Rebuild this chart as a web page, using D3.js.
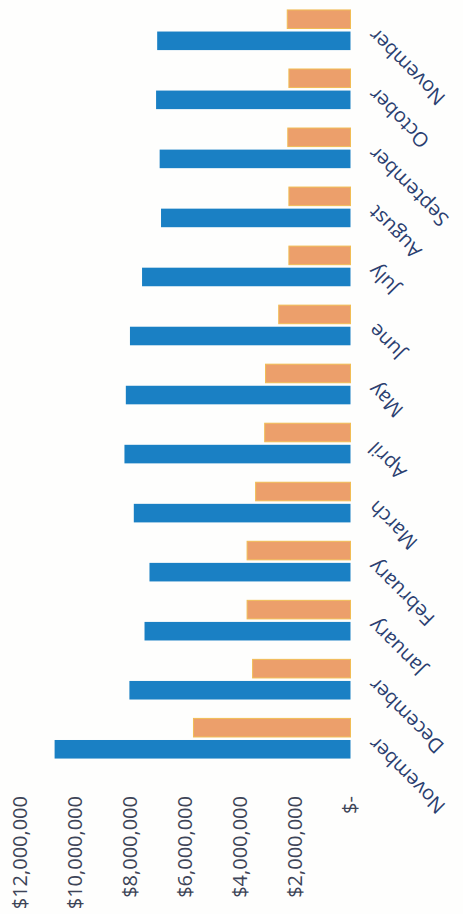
<!DOCTYPE html>
<html>
<head>
<meta charset="utf-8">
<script src="https://cdn.jsdelivr.net/npm/d3@7"></script>
<style>
  html, body { margin: 0; padding: 0; background: #fefefd; }
  svg { display: block; }
</style>
</head>
<body>
<script>
// Monthly figures, November through the following November
const months = ["November", "December", "January", "February", "March", "April",
                "May", "June", "July", "August", "September", "October", "November"];
const seriesA = [10760000, 8040000, 7490000, 7310000, 7880000, 8220000,
                 8170000, 8020000, 7580000, 6890000, 6940000, 7070000, 7030000];
const seriesB = [5710000, 3560000, 3760000, 3760000, 3450000, 3120000,
                 3090000, 2610000, 2240000, 2240000, 2280000, 2240000, 2300000];
const valueTicks = [0, 2000000, 4000000, 6000000, 8000000, 10000000, 12000000];

const W = 463, H = 914;
const colors = ["#1a80c4", "#ec9f6b"];

const svg = d3.select("body").append("svg")
  .attr("width", W).attr("height", H);

// The column chart is laid out in a 914 x 463 frame and turned a quarter turn
// counter-clockwise, so months run bottom-to-top and values grow leftwards.
const g = svg.append("g").attr("transform", `translate(0,${H}) rotate(-90)`);

const x = d3.scaleBand()
  .domain(d3.range(months.length))
  .range([146, 913.5])
  .paddingInner(0.32)
  .paddingOuter(0.16);

const xs = d3.scaleBand()
  .domain([0, 1])
  .range([0, x.bandwidth()])
  .paddingInner(0.14);

const y = d3.scaleLinear().domain([0, 12000000]).range([350.5, 20.5]);

// value axis
const fmt = d => d === 0 ? "$-" : "$" + d3.format(",")(d);
const yAxis = g.append("g")
  .attr("transform", "translate(121,0)")
  .call(d3.axisLeft(y).tickValues(valueTicks).tickFormat(fmt)
    .tickSize(0).tickPadding(3));
yAxis.select(".domain").remove();
yAxis.selectAll("text")
  .attr("font-family", "'Open Sans', sans-serif")
  .attr("font-size", 20)
  .attr("fill", "#3d4457");

// bars
const series = [seriesA, seriesB];
series.forEach((vals, s) => {
  g.append("g").selectAll("rect")
    .data(vals)
    .join("rect")
    .attr("x", (d, i) => x(i) + xs(s))
    .attr("width", xs.bandwidth())
    .attr("y", d => y(d))
    .attr("height", d => y(0) - y(d))
    .attr("fill", colors[s])
    .attr("stroke", s === 1 ? "#f1bd55" : "none")
    .attr("stroke-width", s === 1 ? 1 : 0);
});

// month labels, slanted
g.append("g").selectAll("text")
  .data(months)
  .join("text")
  .attr("transform", (d, i) => `translate(${x(i) + x.bandwidth() / 2 - 2},372) rotate(-45)`)
  .attr("dy", "0.35em")
  .attr("text-anchor", "end")
  .attr("font-family", "'Open Sans', sans-serif")
  .attr("font-size", 20)
  .attr("fill", "#2b3f70")
  .text(d => d);
</script>
</body>
</html>
